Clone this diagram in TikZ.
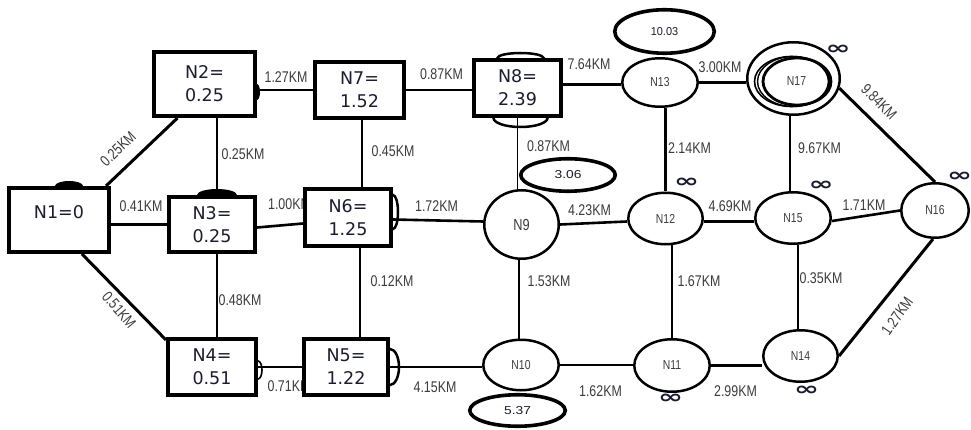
\documentclass[tikz,border=0pt]{standalone}
\usepackage{fontspec}
\usetikzlibrary{shapes.geometric}
\newfontfamily\kmfont[FakeStretch=0.8]{Liberation Sans}
\newfontfamily\valfont[FakeStretch=1.2]{Liberation Sans}
\newfontfamily\boxfont{DejaVu Sans}
\newfontfamily\symfont{DejaVu Sans}
\definecolor{ink}{RGB}{28,28,48}
\definecolor{lbl}{RGB}{60,60,60}
\newcommand\infsym{\scalebox{1}[0.62]{∞}}
\pgfdeclarelayer{bg}
\pgfsetlayers{bg,main}
\tikzset{
  stationbox/.style={draw, rectangle, line width=4pt, fill=white, inner sep=0pt,
    align=center, text=ink, font=\boxfont\fontsize{17.5}{23}\selectfont},
  boxtext/.style={inner sep=0pt, text=ink, font=\boxfont\fontsize{17.5}{23}\selectfont},
  stop/.style={draw, ellipse, line width=2.5pt, fill=white, inner sep=0pt,
    text=lbl, font=\kmfont\fontsize{13}{13}\selectfont},
  value/.style={draw, ellipse, line width=3.6pt, fill=white, inner sep=0pt,
    text=ink, font=\valfont\fontsize{11.5}{11.5}\selectfont},
  link/.style={line width=2.6pt},
  thinlink/.style={line width=1.5pt},
  heavylink/.style={line width=3pt},
  km/.style={inner sep=0pt, text=lbl, font=\kmfont\fontsize{15.5}{15.5}\selectfont},
  inf/.style={inner sep=0pt, text=ink, font=\symfont\bfseries\fontsize{30}{30}\selectfont},
  bump/.style={line width=2.5pt},
}
\begin{document}
\begin{tikzpicture}[x=1pt,y=-1pt]
\useasboundingbox (0,0) rectangle (971,430);

% ---- rectangular stations ----
\node[stationbox, minimum width=100pt, minimum height=64pt] (N1) at (59,220) {};
\node[boxtext] (N1t) at ([yshift=8pt]N1.center) {N1=0};
\node[stationbox, minimum width=101pt, minimum height=64pt] (N2) at (204.5,84) {N2=\\0.25};
\node[stationbox, minimum width=86pt, minimum height=55pt] (N3) at (212,224.5) {N3=\\0.25};
\node[stationbox, minimum width=88pt, minimum height=56pt] (N4) at (212,367) {N4=\\0.51};
\node[stationbox, minimum width=84pt, minimum height=56pt] (N5) at (346,367) {N5=\\1.22};
\node[stationbox, minimum width=86pt, minimum height=57pt] (N6) at (348,217.5) {N6=\\1.25};
\node[stationbox, minimum width=89pt, minimum height=56pt] (N7) at (359.5,90) {N7=\\1.52};
\node[stationbox, minimum width=87pt, minimum height=56pt] (N8) at (517.5,88) {N8=\\2.39};

% ---- elliptical stations ----
\node[stop, minimum width=74.5pt, minimum height=68.5pt, font=\kmfont\fontsize{16}{16}\selectfont] (N9) at (521.5,224.5) {N9};
\node[stop, minimum width=75.5pt, minimum height=50.5pt] (N10) at (521,365) {N10};
\node[stop, minimum width=75.5pt, minimum height=52.5pt] (N11) at (672,365.5) {N11};
\node[stop, minimum width=74.5pt, minimum height=51.5pt] (N12) at (665.5,218.5) {N12};
\node[stop, minimum width=75.5pt, minimum height=48.5pt] (N13) at (660,82.5) {N13};
\node[stop, minimum width=74.5pt, minimum height=51.5pt] (N14) at (800.5,356) {N14};
\node[stop, minimum width=75.5pt, minimum height=51.5pt] (N15) at (793,218) {N15};
\node[stop, minimum width=67.5pt, minimum height=54.5pt] (N16) at (935,210.5) {N16};
\node[stop, minimum width=92.5pt, minimum height=72.5pt] (N17) at (793.5,78.5) {};
% inner rings of N17
\draw[line width=1.6pt] ([xshift=-2pt,yshift=-3pt]N17.center) ellipse [x radius=37, y radius=25];
\draw[line width=1.4pt] ([xshift=0pt,yshift=-3pt]N17.center) ellipse [x radius=36, y radius=25];
\draw[line width=2.8pt] ([xshift=3.5pt,yshift=-3pt]N17.center) ellipse [x radius=34, y radius=23.5];
\node[inner sep=0pt, text=lbl, font=\kmfont\fontsize{13}{13}\selectfont] (N17t) at ([xshift=3pt,yshift=-2.5pt]N17.center) {N17};

% ---- distance values ----
\node[value, minimum width=99.5pt, minimum height=43.5pt] (v13) at (664.5,31.5) {\addfontfeature{FakeStretch=0.95}10.03};
\node[value, minimum width=94.5pt, minimum height=32.5pt] (v9) at (568,175) {3.06};
\node[value, minimum width=95.5pt, minimum height=31.5pt] (v10) at (517.5,410.5) {5.37};

% ---- unreached markers ----
\node[inf] (i12) at (686.5,183) {\infsym};
\node[inf] (i15) at (821,185.5) {\infsym};
\node[inf] (i16) at (959.5,176.5) {\infsym};
\node[inf] (i17) at (838,49.5) {\infsym};
\node[inf] (i11) at (670.5,398.5) {\infsym};
\node[inf] (i14) at (806.5,391) {\infsym};

% helper points for off-centre vertical links
\coordinate (a23) at ([xshift=5pt]N3.north);
\coordinate (a34) at ([xshift=5pt]N3.south);
\coordinate (a67) at ([xshift=2.5pt]N7.south);
\coordinate (a56) at ([xshift=14pt]N5.north);
\coordinate (a813) at ([yshift=-2pt]N13.west);
\coordinate (a910) at ([xshift=-2pt]N10.north);
\coordinate (a1215) at ([yshift=-3pt]N12.east);
\coordinate (a1517) at ([xshift=-3pt]N15.north);
\coordinate (a1415) at ([xshift=-2.5pt]N14.north);

\begin{pgfonlayer}{bg}
\fill[white] (0,0) rectangle (971,430);

% ---- links ----
\draw[heavylink] ([xshift=-5pt]N1.north east) -- ([xshift=-27pt]N2.south);
\draw[heavylink] ([xshift=23pt]N1.south) -- ([yshift=-3pt]N4.north west);
\draw[link] (N3.west) -- (N3.west -| N1.east);
\draw[thinlink] (a23) -- (a23 |- N2.south);
\draw[thinlink] (a34) -- (a34 |- N4.north);
\draw[link] (N7.west) -- (N7.west -| N2.east);
\draw[link] (N7.east) -- (N7.east -| N8.west);
\draw[link] ([yshift=-3pt]N3.east) -- ([yshift=-6pt]N6.west);
\draw[link] (N4.east) -- (N5.west);
\draw[thinlink] (a67) -- (a67 |- N6.north);
\draw[thinlink] (a56) -- (a56 |- N6.south);
\draw[link] ([yshift=-2pt]N6.east) -- ([yshift=3pt]N9.west);
\draw[link] (N5.east) -- (N5.east -| N10.west);
\draw[thinlink] (N8.south) -- (N8.south |- N9.north);
\draw[link] (a813) -- (a813 -| N8.east);
\draw[link] (N9.east) -- ([yshift=-3pt]N12.west);
\draw[link] (a910) -- (a910 |- N9.south);
\draw[link] (N10.east) -- (N10.east -| N11.west);
\draw[link] (N11.east) -- (N11.east -| N14.west);
\draw[thinlink] (N11.north) -- (N11.north |- N12.south);
\draw[link] (N12.north) -- (N12.north |- N13.south);
\draw[link] (a1215) -- (a1215 -| N15.west);
\draw[link] (N13.east) -- (N13.east -| N17.west);
\draw[link] (a1517) -- (a1517 |- N17.south);
\draw[link] ([yshift=-3pt]N15.east) -- (N16.west);
\draw[thinlink] (a1415) -- (a1415 |- N15.south);
\draw[heavylink] (N14.east) -- ([xshift=-2pt]N16.south);
\draw[heavylink] (N17.-12) -- (N16.north);

% ---- bumps of shapes lying behind the boxes ----
\fill[black] ([xshift=10pt]N1.north) ellipse [x radius=14, y radius=5];
\fill[black] ([xshift=5pt]N3.north) ellipse [x radius=20, y radius=6];
\fill[black] ([yshift=-8pt]N2.east) ellipse [x radius=3, y radius=8];
\draw[bump] ([xshift=3pt]N8.north) ellipse [x radius=23, y radius=5];
\draw[bump] ([xshift=3pt]N8.south) ellipse [x radius=27, y radius=9];
\draw[bump] ([yshift=5.5pt]N6.east) ellipse [x radius=5, y radius=17];
\draw[bump] (N5.east) ellipse [x radius=9, y radius=18];
\draw[bump, line width=1.6pt] ([yshift=-3pt]N4.east) ellipse [x radius=4, y radius=9];

% ---- distances ----
\node[km, rotate=44] (d12) at (118,149) {0.25KM};
\node[km, rotate=-50] (d14) at (119,310) {0.51KM};
\node[km] (d13) at (141,206) {0.41KM};
\node[km] (d23) at (243,154) {0.25KM};
\node[km] (d27) at (286,77) {1.27KM};
\node[km] (d36) at (289.5,204) {1.00KM};
\node[km] (d34) at (240,300.5) {0.48KM};
\node[km] (d45) at (289,386.5) {0.71KM};
\node[km] (d56) at (392,281) {0.12KM};
\node[km] (d67) at (393,151) {0.45KM};
\node[km] (d78) at (441.5,74) {0.87KM};
\node[km] (d813) at (589,64) {7.64KM};
\node[km] (d89) at (548.5,146) {0.87KM};
\node[km] (d69) at (436.5,206.5) {1.72KM};
\node[km] (d912) at (589.5,210.5) {4.23KM};
\node[km] (d510) at (435,387) {4.15KM};
\node[km] (d910) at (549,281) {1.53KM};
\node[km] (d1112) at (699,281) {1.67KM};
\node[km] (d1415) at (821,278) {0.35KM};
\node[km] (d1011) at (600.5,391.5) {1.62KM};
\node[km] (d1114) at (735.5,391.5) {2.99KM};
\node[km] (d1213) at (689.5,148.5) {2.14KM};
\node[km] (d1517) at (819.5,148.5) {9.67KM};
\node[km] (d1317) at (720,67.5) {3.00KM};
\node[km] (d1215) at (730,206.5) {4.69KM};
\node[km] (d1516) at (864,205.5) {1.71KM};
\node[km, rotate=-45] (d1617) at (879,102) {9.84KM};
\node[km, rotate=55] (d1416) at (897,316) {1.27KM};
\end{pgfonlayer}
\end{tikzpicture}
\end{document}
